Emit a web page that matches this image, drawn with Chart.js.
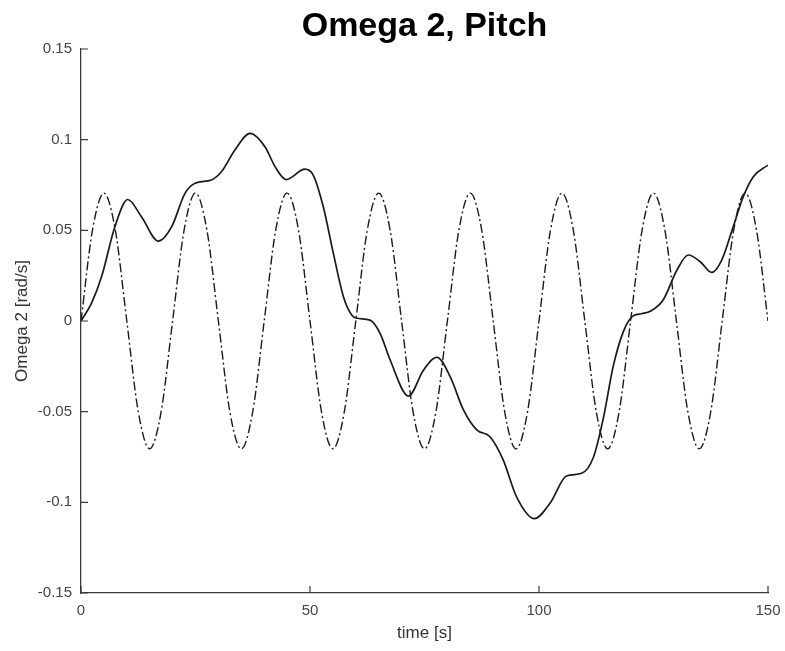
<!DOCTYPE html>
<html>
<head>
<meta charset="utf-8">
<script src="https://cdn.jsdelivr.net/npm/chart.js@4/dist/chart.umd.min.js"></script>
<style>
  html, body { margin: 0; padding: 0; background: #ffffff; }
  canvas { display: block; }
</style>
</head>
<body>
<canvas id="c" width="785" height="651"></canvas>
<script>
// ---- Data ----
const chartTitle = 'Omega 2, Pitch';
const xAxisTitle = 'time [s]';
const yAxisTitle = 'Omega 2 [rad/s]';

const xTicks = [0, 50, 100, 150];
const xTickLabels = ['0', '50', '100', '150'];
const yTicks = [-0.15, -0.1, -0.05, 0, 0.05, 0.1, 0.15];
const yTickLabels = ['-0.15', '-0.1', '-0.05', '0', '0.05', '0.1', '0.15'];

// Solid curve (response)
const solidTime = [0, 2.3, 4.5, 7.4, 10.2, 13.2, 16.9, 19.8, 22.7, 24.9, 28.5, 30.7, 33.6, 36.9, 40.2, 42.4, 44.8, 48.9,
  50.7, 52.9, 55.1, 57.3, 59.1, 60.2, 63.1, 65.3, 67.5, 71.5, 74.8, 77.7, 80.6, 83.5, 86.4, 89.3, 92.2, 95.1, 99.0,
  102.4, 106.0, 109.3, 111.9, 114.1, 116.2, 118.4, 120.4, 122.4, 124.4, 127.1, 130.1, 132.6, 135.2, 137.7, 139.9, 142.4,
  144.6, 146.8, 150];
const solidOmega = [0, 0.0098, 0.0245, 0.052, 0.067, 0.0575, 0.044, 0.052, 0.0704, 0.076, 0.0778, 0.0824, 0.0943, 0.1035, 0.096, 0.085, 0.078, 0.0838,
  0.0805, 0.063, 0.0373, 0.0134, 0.0033, 0.0015, 0.0005, -0.0068, -0.0215, -0.0414, -0.027, -0.020, -0.0307, -0.049, -0.060, -0.0638, -0.0767, -0.097, -0.109,
  -0.1005, -0.0855, -0.084, -0.075, -0.053, -0.025, -0.006, 0.0025, 0.004, 0.0055, 0.0116, 0.028, 0.0364, 0.0327, 0.0268, 0.0336, 0.052,
  0.0686, 0.0796, 0.086];

// Dash-dot curve (reference oscillation)
const dashTime = [0, 2.5, 5, 7.5, 10, 12.5, 15, 17.5, 20, 22.5, 25, 27.5, 30, 32.5, 35, 37.5, 40, 42.5, 45, 47.5,
  50, 52.5, 55, 57.5, 60, 62.5, 65, 67.5, 70, 72.5, 75, 77.5, 80, 82.5, 85, 87.5, 90, 92.5, 95, 97.5,
  100, 102.5, 105, 107.5, 110, 112.5, 115, 117.5, 120, 122.5, 125, 127.5, 130, 132.5, 135, 137.5, 140, 142.5, 145, 147.5, 150];
const dashOmega = [0, 0.05, 0.0705, 0.05, 0, -0.05, -0.0705, -0.05, 0, 0.05, 0.0705, 0.05, 0, -0.05, -0.0705, -0.05, 0, 0.05, 0.0705, 0.05,
  0, -0.05, -0.0705, -0.05, 0, 0.05, 0.0705, 0.05, 0, -0.05, -0.0705, -0.05, 0, 0.05, 0.0705, 0.05, 0, -0.05, -0.0705, -0.05,
  0, 0.05, 0.0705, 0.05, 0, -0.05, -0.0705, -0.05, 0, 0.05, 0.0705, 0.05, 0, -0.05, -0.0705, -0.05, 0, 0.05, 0.0705, 0.05, 0];

// ---- Build chart ----
const toPoints = (xs, ys) => xs.map((x, i) => ({ x: x, y: ys[i] }));

const inwardTicks = {
  id: 'inwardTicks',
  afterDatasetsDraw(chart) {
    const ctx = chart.ctx;
    const xs = chart.scales.x, ys = chart.scales.y;
    const a = chart.chartArea;
    const len = 7;
    ctx.save();
    ctx.strokeStyle = '#3a3a3a';
    ctx.lineWidth = 1.2;
    ctx.beginPath();
    xTicks.forEach(v => {
      const px = xs.getPixelForValue(v);
      ctx.moveTo(px, a.bottom);
      ctx.lineTo(px, a.bottom - len);
    });
    yTicks.forEach(v => {
      const py = ys.getPixelForValue(v);
      ctx.moveTo(a.left, py);
      ctx.lineTo(a.left + len, py);
    });
    ctx.stroke();
    ctx.restore();
  }
};

const centeredTitle = {
  id: 'centeredTitle',
  afterDraw(chart) {
    const ctx = chart.ctx;
    const a = chart.chartArea;
    ctx.save();
    ctx.fillStyle = '#000000';
    ctx.font = 'bold 34px "Liberation Sans", Arial, Helvetica, sans-serif';
    ctx.textAlign = 'center';
    ctx.textBaseline = 'alphabetic';
    ctx.fillText(chartTitle, (a.left + a.right) / 2, 36);
    ctx.restore();
  }
};

const tickFont = { family: '"Liberation Sans", Arial, Helvetica, sans-serif', size: 15 };
const axisFont = { family: '"Liberation Sans", Arial, Helvetica, sans-serif', size: 17 };

new Chart(document.getElementById('c'), {
  type: 'line',
  data: {
    datasets: [
      {
        label: 'Omega 2',
        data: toPoints(solidTime, solidOmega),
        borderColor: '#1a1a1a',
        borderWidth: 1.7,
        pointRadius: 0,
        fill: false,
        cubicInterpolationMode: 'monotone'
      },
      {
        label: 'Reference',
        data: toPoints(dashTime, dashOmega),
        borderColor: '#1a1a1a',
        borderWidth: 1.4,
        borderDash: [9, 3, 2, 3],
        pointRadius: 0,
        fill: false,
        cubicInterpolationMode: 'monotone'
      }
    ]
  },
  options: {
    responsive: false,
    animation: false,
    devicePixelRatio: 1,
    layout: { padding: { top: 49, right: 17, left: 0, bottom: 0 } },
    plugins: {
      legend: { display: false },
      title: { display: false },
      tooltip: { enabled: false }
    },
    scales: {
      x: {
        type: 'linear',
        min: 0,
        max: 150,
        afterBuildTicks: s => { s.ticks = xTicks.map(v => ({ value: v })); },
        afterFit: s => { s.height = 58; s.paddingLeft = 0; s.paddingRight = 0; },
        grid: { display: false, drawTicks: false },
        border: { display: true, color: '#3a3a3a', width: 1.3 },
        ticks: {
          padding: 9,
          color: '#444444',
          font: tickFont,
          maxRotation: 0,
          callback: (v, i) => xTickLabels[i]
        },
        title: {
          display: true,
          text: xAxisTitle,
          color: '#333333',
          font: axisFont,
          padding: { top: 4, bottom: 7 }
        }
      },
      y: {
        type: 'linear',
        min: -0.15,
        max: 0.15,
        afterBuildTicks: s => { s.ticks = yTicks.map(v => ({ value: v })); },
        afterFit: s => { s.width = 81; s.paddingTop = 0; s.paddingBottom = 0; },
        grid: { display: false, drawTicks: false },
        border: { display: true, color: '#3a3a3a', width: 1.3 },
        ticks: {
          padding: 9,
          color: '#444444',
          font: tickFont,
          callback: (v, i) => yTickLabels[i]
        },
        title: {
          display: true,
          text: yAxisTitle,
          color: '#333333',
          font: axisFont,
          padding: { top: 12, bottom: 4 }
        }
      }
    }
  },
  plugins: [inwardTicks, centeredTitle]
});
</script>
</body>
</html>
